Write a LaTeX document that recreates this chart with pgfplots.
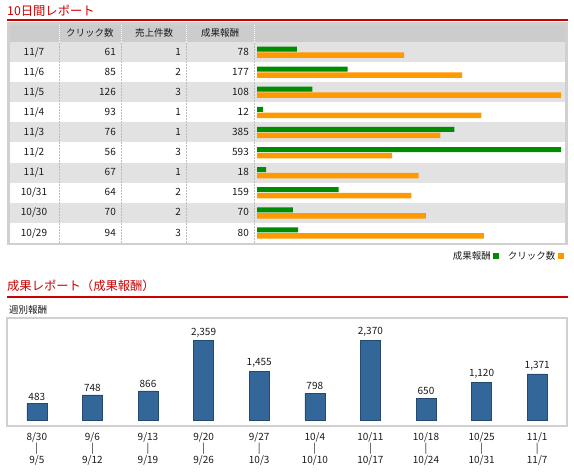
\documentclass[border=0pt]{standalone}
\usepackage{pgfplots}
\pgfplotsset{compat=1.18}
\usepackage{pgfplotstable}
\usepackage{fontspec}
\setmainfont{Noto Sans CJK JP}
\definecolor{rep}{HTML}{CC0000}
\definecolor{hdr}{HTML}{CCCCCC}
\definecolor{rowg}{HTML}{E2E2E2}
\definecolor{brd}{HTML}{D0D0D0}
\definecolor{sepc}{HTML}{BBBBBB}
\definecolor{gbar}{HTML}{008C00}
\definecolor{obar}{HTML}{FF9900}
\definecolor{bbar}{HTML}{336699}
\definecolor{bedge}{HTML}{24496F}
\definecolor{txt}{HTML}{1A1A1A}

\pgfplotstableread{
row date click sales reward
9 11/7 61 1 78
8 11/6 85 2 177
7 11/5 126 3 108
6 11/4 93 1 12
5 11/3 76 1 385
4 11/2 56 3 593
3 11/1 67 1 18
2 10/31 64 2 159
1 10/30 70 2 70
0 10/29 94 3 80
}\daily

\pgfplotstableread{
idx reward
0 483
1 748
2 866
3 2359
4 1455
5 798
6 2370
7 650
8 1120
9 1371
}\weekly

\begin{document}
\begin{tikzpicture}[x=1pt,y=1pt,
  tf/.style={inner sep=0pt, text=txt, font=\fontsize{10}{11}\selectfont}]
\path[use as bounding box] (0,0) rectangle (574,472);

% ---------- section 1 ----------
\node[anchor=mid west, inner sep=0pt, text=rep, font=\fontsize{12.3}{13}\selectfont] at (7,459) {10日間レポート};
\fill[rep] (7,450.5) rectangle (568,452.5);

% table frame and rows
\fill[brd] (7,227) rectangle (568,450);
\fill[white] (10,229) rectangle (565,447);
\fill[hdr] (10,430) rectangle (565,447);
\foreach \i in {0,2,4,6,8} {
  \fill[rowg] (10,{430-20.1*\i-20.1}) rectangle (565,{430-20.1*\i});
}
\foreach \x in {59,121,186,254} {
  \draw[sepc, line width=0.8pt, dash pattern=on 2pt off 1pt] (\x,229) -- (\x,430);
  \draw[white, line width=0.8pt, dash pattern=on 1pt off 1pt] (\x,430) -- (\x,447);
}

% header
\node[tf, anchor=mid, font=\fontsize{9.5}{11}\selectfont] at (90,438.5) {クリック数};
\node[tf, anchor=mid, font=\fontsize{9.5}{11}\selectfont] at (154,438.5) {売上件数};
\node[tf, anchor=mid, font=\fontsize{9.5}{11}\selectfont] at (220,438.5) {成果報酬};

% body text
\foreach \i in {0,...,9} {
  \pgfplotstablegetelem{\i}{date}\of\daily \let\dd\pgfplotsretval
  \pgfplotstablegetelem{\i}{click}\of\daily \let\cc\pgfplotsretval
  \pgfplotstablegetelem{\i}{sales}\of\daily \let\ss\pgfplotsretval
  \pgfplotstablegetelem{\i}{reward}\of\daily \let\rr\pgfplotsretval
  \pgfmathsetmacro\yy{419.6-20.1*\i}
  \node[tf, anchor=mid] at (34,\yy) {\dd};
  \node[tf, anchor=mid east] at (116,\yy) {\cc};
  \node[tf, anchor=mid east] at (181,\yy) {\ss};
  \node[tf, anchor=mid east] at (249,\yy) {\rr};
}

% green bars (reward)
\begin{axis}[at={(257pt,232pt)}, anchor=south west, scale only axis,
  width=304pt, height=201pt, xmin=0, xmax=593, ymin=-0.5, ymax=9.5,
  hide axis, clip=false]
  \addplot[xbar, bar width=5pt, fill=gbar, draw=none] table[x=reward, y=row] {\daily};
\end{axis}

% orange bars (clicks) + legend
\begin{axis}[at={(257pt,226pt)}, anchor=south west, scale only axis,
  width=304pt, height=201pt, xmin=0, xmax=126, ymin=-0.5, ymax=9.5,
  hide axis, clip=false,
  legend columns=2, legend plot pos=right,
  legend style={at={(1,0)}, anchor=north east, xshift=3pt, yshift=-5pt,
    draw=none, fill=none, inner sep=0pt, column sep=2pt,
    font=\fontsize{9.5}{11}\selectfont, text=txt,
    nodes={inner sep=0.5pt},
    /tikz/every even column/.append style={column sep=8pt}}]
  \addplot[xbar, bar width=5.5pt, fill=obar, draw=none, forget plot] table[x=click, y=row] {\daily};
  \addlegendimage{fill=gbar, draw=none, legend image code/.code={\fill (0pt,-3pt) rectangle (6pt,3pt);}}
  \addlegendentry{成果報酬}
  \addlegendimage{fill=obar, draw=none, legend image code/.code={\fill (0pt,-3pt) rectangle (6pt,3pt);}}
  \addlegendentry{クリック数}
\end{axis}

% ---------- section 2 ----------
\node[anchor=mid west, inner sep=0pt, text=rep, font=\fontsize{12.3}{13}\selectfont] at (7,184.5) {成果レポート（成果報酬）};
\fill[rep] (7,174) rectangle (568,176);
\node[anchor=mid west, inner sep=0pt, text=txt, font=\fontsize{9.5}{11}\selectfont] at (9,161) {週別報酬};

\begin{axis}[at={(7pt,46pt)}, anchor=south west, scale only axis,
  width=560pt, height=108pt,
  xmin=-0.536, xmax=9.536, ymin=-178.6, ymax=3035.7,
  axis line style={draw=brd, line width=2pt},
  ytick=\empty, xtick={0,...,9},
  xticklabels={{8/30\\|\\9/5},{9/6\\|\\9/12},{9/13\\|\\9/19},{9/20\\|\\9/26},{9/27\\|\\10/3},
               {10/4\\|\\10/10},{10/11\\|\\10/17},{10/18\\|\\10/24},{10/25\\|\\10/31},{11/1\\|\\11/7}},
  xticklabel style={align=center, text=txt, font=\fontsize{10}{11.5}\selectfont, yshift=-3pt},
  major tick length=0pt,
  /pgf/number format/1000 sep={,},
  /pgf/number format/assume math mode=true,
  nodes near coords,
  nodes near coords style={text=txt, font=\fontsize{10}{11}\selectfont},
  clip=false]
  \addplot[ybar, bar width=20pt, fill=bbar, draw=bedge, line width=0.6pt] table[x=idx, y=reward] {\weekly};
\end{axis}
\end{tikzpicture}
\end{document}
